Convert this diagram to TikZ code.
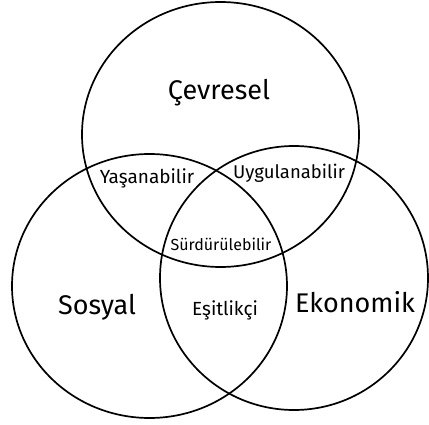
\documentclass[tikz,border=0pt]{standalone}
\usepackage{fontspec}
\setmainfont{Fira Sans}
\usetikzlibrary{shapes.geometric, positioning}

\begin{document}
\begin{tikzpicture}[x=1pt,y=-1pt]
    \tikzstyle{ring}=[ellipse, draw=black, line width=1.7pt, inner sep=0pt]
    \tikzstyle{big}=[font=\fontsize{27}{29}\selectfont]
    \tikzstyle{mid}=[font=\fontsize{19}{21}\selectfont]
    \tikzstyle{small}=[font=\fontsize{16}{18}\selectfont]

    \useasboundingbox (0,0) rectangle (429,425);

    % three rings: name/x/y/width/height
    \foreach \n/\x/\y/\w/\h in {C/220.5/134.5/277/265, S/149.5/286/275/264, E/294/278/268/264}{
        \node[ring, minimum width=\w pt, minimum height=\h pt] (\n) at (\x,\y) {};
    }

    \node[big] (cev) at (219,93) {Çevresel};
    \node[big] (sos) at (97,307) {Sosyal};
    \node[big] (eko) at (355,302) {Ekonomik};

    \node[mid] (yas) at (147,178) {Yaşanabilir};
    \node[mid, font=\fontsize{18.5}{20}\selectfont] (uyg) at (289,173) {Uygulanabilir};
    \node[mid] (esi) at (225,310) {Eşitlikçi};
    \node[small] (sur) at (221,244) {Sürdürülebilir};
\end{tikzpicture}
\end{document}
